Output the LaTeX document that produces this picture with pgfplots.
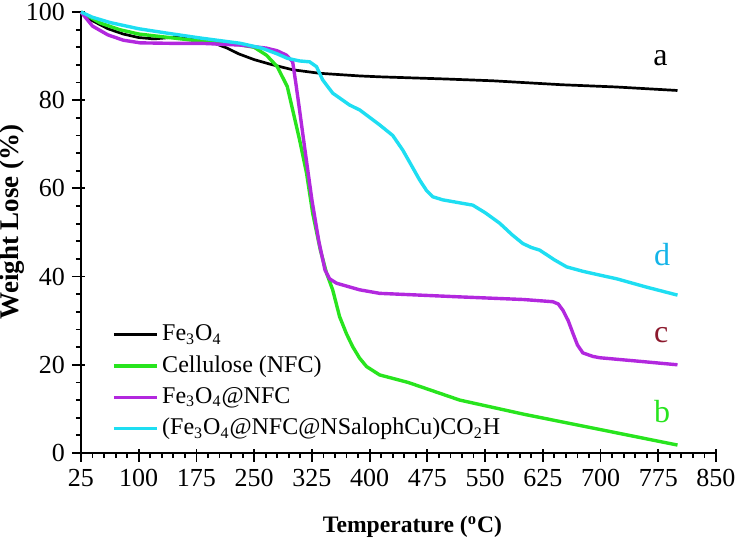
\documentclass[border=0pt]{standalone}
\usepackage{fontspec}
\setmainfont{Liberation Serif}
\usepackage{pgfplots}
\pgfplotsset{compat=1.18}
\definecolor{cgreen}{RGB}{40,228,30}
\definecolor{cpurple}{RGB}{178,40,222}
\definecolor{ccyan}{RGB}{30,222,242}
\definecolor{lblc}{RGB}{140,25,45}
\definecolor{lbld}{RGB}{20,180,232}
\begin{document}
\begin{tikzpicture}
\path[use as bounding box] (-40.5pt,-45.5pt) rectangle (327pt,226.5pt);
\begin{axis}[
  scale only axis, width=317.5pt, height=220.5pt,
  xmin=25, xmax=850, ymin=0, ymax=100,
  axis lines=left, axis line style={-, line width=1pt},
  xtick={25,100,...,850}, ytick={0,20,...,100},
  minor x tick num=4, minor y tick num=4,
  tick align=outside, major tick length=4.5pt, minor tick length=2.6pt,
  tick style={line width=0.9pt, black},
  extra x ticks={25,100,...,850}, extra x tick labels={},
  extra x tick style={tick align=inside, major tick length=2pt},
  extra y ticks={0,20,...,100}, extra y tick labels={},
  extra y tick style={tick align=inside, major tick length=2pt},
  ticklabel style={font=\fontsize{13}{15}\selectfont},
  /pgf/number format/assume math mode=true,
  xlabel={\textbf{Temperature (\textsuperscript{o}C)}},
  ylabel={\textbf{Weight Lose (\%)}},
  xlabel style={font=\fontsize{11.8}{14}\selectfont, at={(axis description cs:0.522,-0.168)}, anchor=center},
  ylabel style={font=\fontsize{13.5}{15}\selectfont, at={(axis description cs:-0.109,0.524)}, anchor=center, rotate=0},
  clip=false,
  legend style={at={(axis description cs:0.039,0.312)}, anchor=north west, draw=none, fill=none,
    font=\fontsize{12}{14}\selectfont, row sep=0.6pt,
    nodes={text height=8.5pt, text depth=2.5pt, inner sep=2pt}},
  legend cell align=left,
  legend image code/.code={\draw[#1] (0cm,0cm) -- (0.75cm,0cm);},
]
\addplot[black, line width=1.35pt] coordinates {
(25,100) (40,98) (60,96.2) (80,95) (100,94.2) (120,93.9) (140,94.2) (160,94.3) (180,93.6) (200,92.8) (215,91.8) (230,90.5) (250,89.2) (270,88.2) (300,86.9) (335,86.1) (387,85.5) (413,85.3) (500,84.8) (560,84.4) (650,83.5) (720,83.0) (800,82.2)};
\addlegendentry{Fe\textsubscript{3}O\textsubscript{4}}
\addplot[cgreen, line width=1.7pt] coordinates {
(25,100) (50,97.5) (75,96) (100,95) (150,94) (200,93) (230,92.6) (250,92) (266,90.2) (280,87.6) (293,83.1) (300,77.8) (309,71) (318,63.5) (326,54.4) (336,46) (344,40.8) (352,37) (361,30.9) (370,27) (378,24.1) (387,21.5) (396,19.6) (413,17.7) (450,16) (517,12) (600,8.8) (700,5.3) (800,1.8)};
\addlegendentry{Cellulose (NFC)}
\addplot[cpurple, line width=1.7pt] coordinates {
(25,100) (40,96.8) (60,94.8) (80,93.6) (102,93.0) (140,92.9) (180,92.9) (232,92.5) (266,91.8) (280,91.2) (292,90.2) (300,88.7) (304,84) (308,79) (316,68.7) (325,57.4) (334,48) (342,41.5) (348,39.5) (357,38.5) (387,37.0) (413,36.2) (517,35.4) (600,34.8) (638,34.3) (645,33.8) (651,32.4) (658,30) (664,27.2) (670,24.5) (677,22.7) (690,21.9) (699,21.6) (750,20.8) (800,20.0)};
\addlegendentry{Fe\textsubscript{3}O\textsubscript{4}@NFC}
\addplot[ccyan, line width=1.7pt] coordinates {
(25,100) (40,98.8) (63,97.6) (100,96.2) (137,95.2) (180,94.1) (232,92.9) (260,91.8) (280,90.5) (293,89.5) (309,88.9) (322,88.7) (331,87.6) (339,84.6) (352,81.6) (374,78.9) (387,77.8) (413,74.4) (430,72) (443,68.7) (455,65) (465,61.9) (474,59.5) (482,58.1) (495,57.4) (508,57.0) (534,56.2) (550,54.5) (569,52.1) (585,49.5) (599,47.5) (610,46.6) (621,46.0) (640,43.8) (656,42.2) (677,41.2) (700,40.3) (721,39.5) (760,37.6) (800,35.8)};
\addlegendentry{(Fe\textsubscript{3}O\textsubscript{4}@NFC@NSalophCu)CO\textsubscript{2}H}
\node[font=\fontsize{16}{18}\selectfont, black] at (axis cs:778,89.5) {a};
\node[font=\fontsize{16}{18}\selectfont, cgreen] at (axis cs:780,9.3) {b};
\node[font=\fontsize{16}{18}\selectfont, lblc] at (axis cs:779,26.8) {c};
\node[font=\fontsize{16}{18}\selectfont, lbld] at (axis cs:780,44.9) {d};
\end{axis}
\end{tikzpicture}
\end{document}
